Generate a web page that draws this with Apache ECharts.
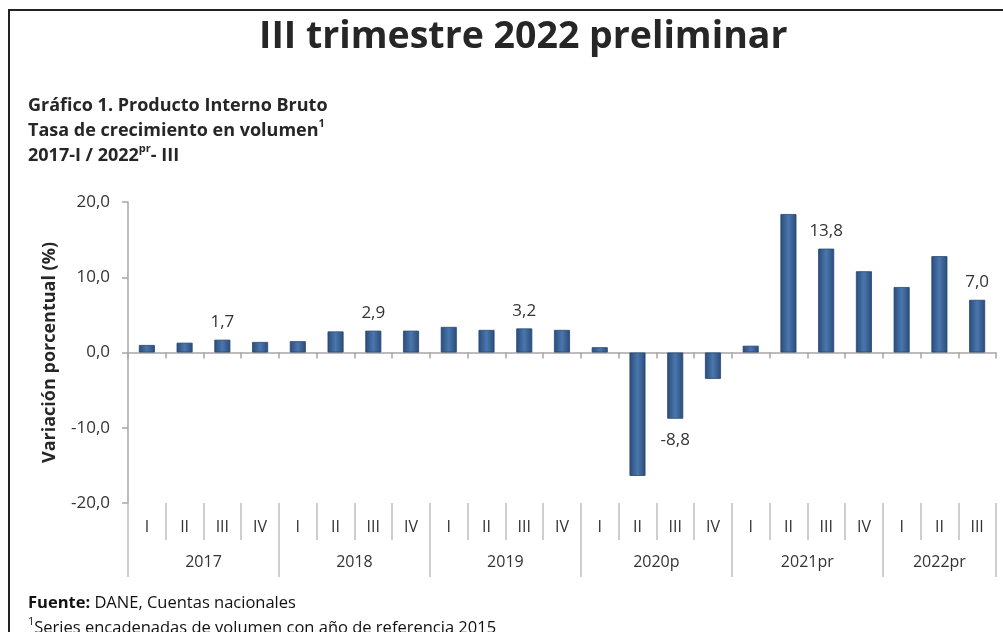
<!DOCTYPE html>
<html>
<head>
<meta charset="utf-8">
<script src="https://cdn.jsdelivr.net/npm/echarts@6/dist/echarts.min.js"></script>
<style>
  html, body { margin: 0; padding: 0; background: #fff; }
  #main { width: 1003px; height: 632px; }
</style>
</head>
<body>
<div id="main"></div>
<script>
// trimestres y años del eje x
const quarters = ['I', 'II', 'III', 'IV', 'I', 'II', 'III', 'IV', 'I', 'II', 'III', 'IV',
    'I', 'II', 'III', 'IV', 'I', 'II', 'III', 'IV', 'I', 'II', 'III']
const yearLabels = ['2017', '2018', '2019', '2020p', '2021pr', '2022pr']
const yearCenters = [2, 6, 10, 14, 18, 21.5]
const yearBounds = [0, 4, 8, 12, 16, 20, 23]
// tasa de crecimiento (%)
const growth = [1.0, 1.3, 1.7, 1.4, 1.5, 2.8, 2.9, 2.9, 3.4, 3.0, 3.2, 3.0,
    0.7, -16.4, -8.8, -3.5, 0.9, 18.4, 13.8, 10.8, 8.7, 12.8, 7.0]
// barras con etiqueta
const labeled = [2, 6, 10, 14, 18, 22]
const yTicks = [-20, -10, 0, 10, 20]

const FONT = 'Open Sans'
const fmt = v => v.toFixed(1).replace('.', ',')

const chart = echarts.init(document.getElementById('main'))

const barColor = new echarts.graphic.LinearGradient(0, 0, 1, 0, [
    {offset: 0, color: '#2a4b79'},
    {offset: 0.5, color: '#4a77ae'},
    {offset: 1, color: '#2a4b79'}
])

const seriesData = growth.map((v, i) => {
    const item = {value: v}
    if (labeled.indexOf(i) >= 0) {
        item.label = {
            show: true,
            position: v < 0 ? 'bottom' : 'top',
            distance: v < 0 ? 13 : 9,
            formatter: p => fmt(p.value),
            fontFamily: FONT,
            fontSize: 17,
            color: '#333'
        }
    }
    return item
})

const option = {
    animation: false,
    textStyle: {fontFamily: FONT},
    title: [
        {
            text: 'III trimestre 2022 preliminar',
            left: 254,
            top: 13,
            textStyle: {fontFamily: FONT, fontSize: 37.5, fontWeight: 'bold', color: '#262626'}
        },
        {
            text: '{b|Gráfico 1. Producto Interno Bruto}\n{b|Tasa de crecimiento en volumen}{sup|1}\n{b|2017-I / 2022}{sup|pr}{b|- III}',
            left: 23,
            top: 88,
            textStyle: {
                rich: {
                    b: {fontFamily: FONT, fontSize: 18, fontWeight: 'bold', color: '#262626', lineHeight: 25},
                    sup: {fontFamily: FONT, fontSize: 11, fontWeight: 'bold', color: '#262626', lineHeight: 15, verticalAlign: 'top'}
                }
            }
        },
        {
            text: '{b|Fuente:}{r| DANE, Cuentas nacionales}\n{sup|1}{r|Series encadenadas de volumen con año de referencia 2015}',
            left: 23,
            top: 586,
            textStyle: {
                rich: {
                    b: {fontFamily: FONT, fontSize: 16.5, fontWeight: 'bold', color: '#111', lineHeight: 25},
                    r: {fontFamily: FONT, fontSize: 16.5, fontWeight: 'normal', color: '#111', lineHeight: 25},
                    sup: {fontFamily: FONT, fontSize: 11, fontWeight: 'normal', color: '#111', lineHeight: 15, verticalAlign: 'top'}
                }
            }
        }
    ],
    graphic: [
        {type: 'line', shape: {x1: 8, y1: 10, x2: 1003, y2: 10}, style: {stroke: '#222', lineWidth: 2}},
        {type: 'line', shape: {x1: 9, y1: 10, x2: 9, y2: 632}, style: {stroke: '#222', lineWidth: 2}}
    ],
    grid: {left: 128, right: 7, top: 202, bottom: 129},
    xAxis: [
        {
            type: 'category',
            data: quarters,
            axisLine: {onZero: true, lineStyle: {color: '#a6a6a6', width: 1.5}},
            axisTick: {show: true, length: 6, lineStyle: {color: '#a6a6a6', width: 1.5}},
            axisLabel: {show: false}
        },
        {
            type: 'category',
            data: quarters,
            position: 'bottom',
            axisLine: {show: false, onZero: false},
            axisTick: {show: true, length: 37, lineStyle: {color: '#bfbfbf', width: 1.5}},
            axisLabel: {margin: 16, fontFamily: FONT, fontSize: 16, color: '#333'}
        },
        {
            type: 'value',
            min: 0,
            max: 23,
            position: 'bottom',
            splitLine: {show: false},
            axisLine: {show: false, onZero: false},
            axisTick: {show: true, length: 74, customValues: yearBounds, lineStyle: {color: '#bfbfbf', width: 1.5}},
            axisLabel: {
                margin: 51,
                customValues: yearCenters,
                formatter: v => yearLabels[yearCenters.indexOf(v)],
                fontFamily: FONT, fontSize: 16, color: '#333'
            }
        }
    ],
    yAxis: {
        type: 'value',
        min: -20,
        max: 20,
        interval: 10,
        name: 'Variación porcentual (%)',
        nameLocation: 'middle',
        nameGap: 69,
        nameRotate: 90,
        nameTextStyle: {fontFamily: FONT, fontSize: 18, fontWeight: 'bold', color: '#262626'},
        splitLine: {show: false},
        axisLine: {show: true, lineStyle: {color: '#a6a6a6', width: 1.5}},
        axisTick: {show: true, length: 6, lineStyle: {color: '#a6a6a6', width: 1.5}},
        axisLabel: {
            margin: 18,
            formatter: v => yTicks.indexOf(v) >= 0 ? fmt(v) : '',
            fontFamily: FONT, fontSize: 17, color: '#333'
        }
    },
    series: [
        {
            type: 'bar',
            xAxisIndex: 0,
            data: seriesData,
            barWidth: 16,
            itemStyle: {color: barColor, borderColor: '#284670', borderWidth: 0.8},
            z: 3
        }
    ]
}

chart.setOption(option)
</script>
</body>
</html>
